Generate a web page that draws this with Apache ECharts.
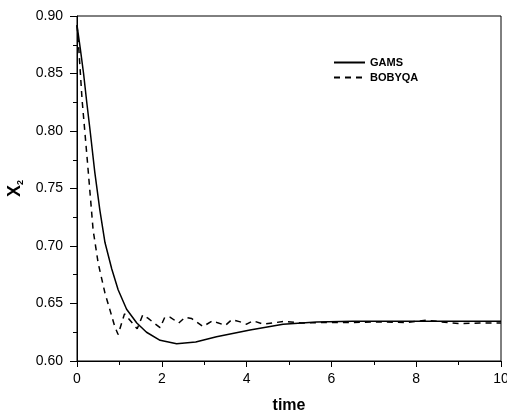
<!DOCTYPE html>
<html>
<head>
<meta charset="utf-8">
<script src="https://cdn.jsdelivr.net/npm/echarts@6/dist/echarts.min.js"></script>
<style>
  html, body { margin: 0; padding: 0; background: #fff; }
  #chart { width: 507px; height: 417px; }
</style>
</head>
<body>
<div id="chart"></div>
<script>
// GAMS (solid)
const gamsTime = [0, 0.08, 0.155, 0.23, 0.31, 0.42, 0.54, 0.66, 0.82, 0.97, 1.17, 1.41, 1.64, 1.96, 2.35, 2.8, 3.29, 4.08, 4.86, 5.65, 6.5, 7.5, 8.5, 10];
const gamsValues = [0.892, 0.871, 0.850, 0.825, 0.800, 0.764, 0.731, 0.703, 0.680, 0.662, 0.645, 0.633, 0.625, 0.618, 0.615, 0.6165, 0.621, 0.627, 0.632, 0.634, 0.6345, 0.6345, 0.6345, 0.6345];

// BOBYQA (dashed)
const bobyqaTime = [0, 0.04, 0.12, 0.235, 0.31, 0.38, 0.50, 0.66, 0.78, 0.89, 0.97, 1.12, 1.42, 1.55, 1.68, 1.96, 2.07, 2.20, 2.40, 2.55, 2.70, 2.97, 3.20, 3.30, 3.50, 3.65, 3.85, 4.00, 4.15, 4.40, 4.60, 4.90, 5.30, 5.80, 6.50, 7.20, 7.80, 8.25, 8.60, 9.00, 9.50, 10];
const bobyqaValues = [0.892, 0.873, 0.827, 0.778, 0.745, 0.714, 0.685, 0.659, 0.644, 0.630, 0.623, 0.641, 0.628, 0.640, 0.637, 0.629, 0.638, 0.638, 0.633, 0.638, 0.637, 0.630, 0.635, 0.6335, 0.631, 0.636, 0.634, 0.632, 0.635, 0.632, 0.633, 0.6345, 0.633, 0.6335, 0.6335, 0.634, 0.6335, 0.6355, 0.634, 0.6325, 0.633, 0.633];

const seriesNames = ['GAMS', 'BOBYQA'];

const font = 'Liberation Sans, Arial, sans-serif';

const pairs = (xs, ys) => xs.map((x, i) => [x, ys[i]]);

const chart = echarts.init(document.getElementById('chart'), null, { renderer: 'canvas' });

chart.setOption({
  animation: false,
  backgroundColor: '#fff',
  textStyle: { fontFamily: font, color: '#000' },
  grid: {
    left: 77,
    right: 6,
    top: 16,
    bottom: 56,
    containLabel: false,
    outerBoundsMode: 'none',
    show: true,
    borderColor: '#000',
    borderWidth: 1
  },
  legend: {
    data: seriesNames,
    orient: 'vertical',
    left: 333,
    top: 57,
    padding: 0,
    itemWidth: 31,
    itemHeight: 10,
    itemGap: 4,
    itemStyle: { opacity: 0 },
    textStyle: { fontFamily: font, fontSize: 11, fontWeight: 'bold', color: '#000' }
  },
  xAxis: {
    type: 'value',
    min: 0,
    max: 10,
    interval: 2,
    name: 'time',
    nameLocation: 'middle',
    nameGap: 37,
    nameTextStyle: { fontFamily: font, fontSize: 16, fontWeight: 'bold', color: '#000' },
    axisLine: { lineStyle: { color: '#000', width: 1 } },
    axisTick: { show: true, inside: false, length: 6, lineStyle: { color: '#000' } },
    minorTick: { show: true, splitNumber: 2, length: 4, lineStyle: { color: '#000' } },
    splitLine: { show: false },
    axisLabel: { margin: 11, fontSize: 14, color: '#000', fontFamily: font }
  },
  yAxis: {
    type: 'value',
    min: 0.6,
    max: 0.9,
    interval: 0.05,
    name: '{a|X}{b|2}',
    nameLocation: 'middle',
    nameGap: 52,
    nameTextStyle: {
      rich: {
        a: { fontFamily: font, fontSize: 18, fontWeight: 'bold', color: '#000', lineHeight: 20 },
        b: { fontFamily: font, fontSize: 9, fontWeight: 'bold', color: '#000', verticalAlign: 'bottom' }
      }
    },
    axisLine: { lineStyle: { color: '#000', width: 1 } },
    axisTick: { show: true, inside: false, length: 7, lineStyle: { color: '#000' } },
    minorTick: { show: true, splitNumber: 2, length: 4, lineStyle: { color: '#000' } },
    splitLine: { show: false },
    axisLabel: {
      margin: 14,
      fontSize: 14,
      color: '#000',
      fontFamily: font,
      formatter: (v) => v.toFixed(2)
    }
  },
  series: [
    {
      name: seriesNames[0],
      type: 'line',
      data: pairs(gamsTime, gamsValues),
      symbol: 'none',
      lineStyle: { color: '#000', width: 1.5, type: 'solid' },
      itemStyle: { color: '#000' }
    },
    {
      name: seriesNames[1],
      type: 'line',
      data: pairs(bobyqaTime, bobyqaValues),
      symbol: 'none',
      lineStyle: { color: '#000', width: 1.5, type: [6, 5] },
      itemStyle: { color: '#000' }
    }
  ]
});
</script>
</body>
</html>
